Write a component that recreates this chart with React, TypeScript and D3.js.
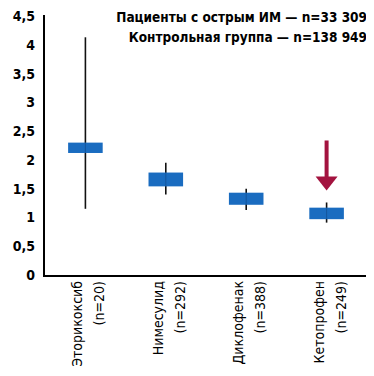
import React, { useEffect, useRef } from 'react';
import * as d3 from 'd3';

const drugs = ['Эторикоксиб', 'Нимесулид', 'Диклофенак', 'Кетопрофен'];
const counts = ['(n=20)', '(n=292)', '(n=388)', '(n=249)'];
const boxLow = [2.12, 1.54, 1.22, 0.97];
const boxHigh = [2.3, 1.78, 1.43, 1.17];
const whiskerLow = [1.15, 1.4, 1.13, 0.91];
const whiskerHigh = [4.13, 1.95, 1.5, 1.26];
const yTicks = [0, 0.5, 1, 1.5, 2, 2.5, 3, 3.5, 4, 4.5];
const legendLines = ['Пациенты с острым ИМ — n=33 309', 'Контрольная группа — n=138 949'];
const highlighted = 'Кетопрофен';

export default function App() {
    const ref = useRef<SVGSVGElement | null>(null);
    useEffect(() => {
        const svg = d3.select(ref.current);
        svg.selectAll('*').remove();
        const width = 374, height = 376;
        const margin = { top: 16, right: 6, bottom: 101, left: 44 };
        const font = '"DejaVu Sans Condensed", "Roboto", sans-serif';

        const x = d3.scaleBand().domain(drugs).range([margin.left, width - margin.right]).paddingInner(0.57).paddingOuter(0.3);
        const y = d3.scaleLinear().domain([0, 4.5]).range([height - margin.bottom, margin.top]);
        const bw = x.bandwidth();
        const cx = (d: string) => x(d)! + bw / 2;

        svg.attr('viewBox', `0 0 ${width} ${height}`);

        // axes
        svg.append('line').attr('x1', margin.left).attr('x2', margin.left)
            .attr('y1', y(4.5) - 1).attr('y2', y(0) + 1)
            .attr('stroke', '#000').attr('stroke-width', 2);
        svg.append('line').attr('x1', margin.left - 1).attr('x2', width - margin.right)
            .attr('y1', y(0) + 1).attr('y2', y(0) + 1)
            .attr('stroke', '#000').attr('stroke-width', 2);

        svg.append('g').selectAll('text').data(yTicks).join('text')
            .attr('x', 35).attr('y', d => y(d)).attr('dy', '0.36em')
            .attr('text-anchor', 'end')
            .attr('font-family', font).attr('font-weight', 'bold').attr('font-size', 14)
            .text(d => String(d).replace('.', ','));

        // whiskers
        svg.append('g').selectAll('line').data(drugs).join('line')
            .attr('x1', d => cx(d)).attr('x2', d => cx(d))
            .attr('y1', (d, i) => y(whiskerHigh[i])).attr('y2', (d, i) => y(whiskerLow[i]))
            .attr('stroke', '#111').attr('stroke-width', 1.6);

        // boxes
        svg.append('g').selectAll('rect').data(drugs).join('rect')
            .attr('x', d => x(d)!)
            .attr('y', (d, i) => y(boxHigh[i]))
            .attr('width', bw)
            .attr('height', (d, i) => y(boxLow[i]) - y(boxHigh[i]))
            .attr('fill', '#1a6cc0');

        svg.append('g').selectAll('line').data(drugs).join('line')
            .attr('x1', d => cx(d)).attr('x2', d => cx(d))
            .attr('y1', (d, i) => y(boxHigh[i])).attr('y2', (d, i) => y(boxLow[i]))
            .attr('stroke', '#0d3f7a').attr('stroke-width', 1).attr('opacity', 0.5);

        // arrow over the highlighted drug
        const ai = drugs.indexOf(highlighted);
        const ax = cx(highlighted);
        const tipY = y(whiskerHigh[ai]) - 12;
        const arrowColor = '#a3133f';
        svg.append('rect').attr('x', ax - 2).attr('y', tipY - 50).attr('width', 4).attr('height', 38).attr('fill', arrowColor);
        svg.append('path')
            .attr('d', d3.line()([[ax - 11, tipY - 14], [ax + 11, tipY - 14], [ax, tipY]]) + 'Z')
            .attr('fill', arrowColor);

        // legend
        svg.append('g').selectAll('text').data(legendLines).join('text')
            .attr('x', width - 7).attr('y', (d, i) => 22 + i * 20)
            .attr('text-anchor', 'end')
            .attr('font-family', font).attr('font-weight', 'bold').attr('font-size', 13.5)
            .text(d => d);

        // category labels (rotated)
        const lab = svg.append('g').selectAll('g').data(drugs).join('g')
            .attr('transform', d => `translate(${cx(d)},${y(0) + 6}) rotate(-90)`);
        lab.append('text')
            .attr('x', 0).attr('y', -3)
            .attr('text-anchor', 'end')
            .attr('font-family', font).attr('font-size', 14)
            .text(d => d);
        lab.append('text')
            .attr('x', 0).attr('y', 19)
            .attr('text-anchor', 'end')
            .attr('font-family', font).attr('font-size', 14)
            .text((d, i) => counts[i]);
    }, []);
    return (
        <div style={{ margin: -8 }}>
            <svg ref={ref} width={374} height={376} style={{ display: 'block', background: '#fff' }} />
        </div>
    );
}
